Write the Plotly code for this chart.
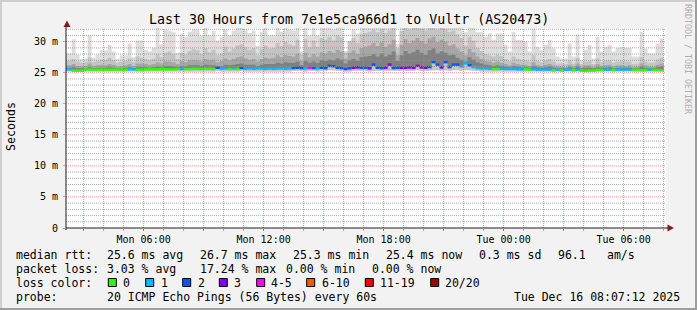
import plotly.graph_objects as go
from datetime import datetime, timedelta

# ---------------- data ----------------
bin_start = datetime(2025, 12, 15, 2, 0, 0)   # first 12-minute bin (partly visible)
bin_minutes = 12
view_start = "2025-12-15 02:07:12"
view_end = "2025-12-16 08:07:12"

# top of the smoke (slowest ping) per bin, ms
ping_max = [
    28.1,
    28.1, 30.4, 27.9, 27.2, 27.3, 31.0, 27.4, 27.9, 28.7, 28.6, 29.5, 28.4, 27.2, 27.8, 27.8, 29.7, 27.5, 30.2, 30.2, 28.7, 28.4, 29.0, 32.2, 29.6, 31.9,
    31.8, 31.5, 28.2, 31.3, 30.8, 31.6, 32.0, 32.0, 30.9, 32.2, 31.0, 31.7, 30.2, 30.8, 32.0, 31.0, 31.8, 32.3, 32.3, 32.0, 31.4, 31.8, 29.3, 31.6, 32.2,
    31.0, 31.0, 32.3, 31.6, 32.3, 32.0, 31.8, 32.4, 28.5, 32.4, 31.0, 32.3, 31.0, 32.4, 32.2, 32.4, 32.0, 32.4, 32.3, 28.5, 29.8, 32.0, 31.3, 32.4, 32.4,
    32.5, 32.5, 32.5, 32.5, 32.5, 32.5, 32.5, 29.6, 32.5, 32.5, 32.5, 32.5, 32.5, 32.5, 32.5, 32.5, 32.5, 32.5, 32.5, 32.5, 32.5, 32.5, 32.5, 32.5, 31.5,
    32.5, 32.5, 31.5, 31.5, 30.8, 31.3, 30.3, 31.3, 31.3, 29.5, 28.4, 31.6, 30.3, 30.3, 30.0, 28.4, 32.1, 29.2, 28.7, 29.5, 30.3, 28.9, 27.6, 27.3, 27.3,
    29.7, 27.6, 31.2, 27.0, 28.7, 29.5, 27.3, 30.8, 28.4, 29.2, 29.5, 28.4, 29.0, 29.2, 29.0, 29.0, 27.6, 27.6, 31.6, 28.9, 28.1, 28.1, 29.7, 30.5,
]
ping_p90 = [
    26.9,
    26.9, 27.2, 26.8, 26.6, 26.7, 27.5, 26.7, 26.9, 27.1, 27.0, 27.4, 27.0, 26.6, 26.8, 26.9, 27.3, 26.7, 27.6, 27.4, 27.2, 27.0, 27.3, 28.0, 27.5, 28.2,
    28.4, 28.0, 27.2, 28.2, 27.9, 28.5, 28.8, 28.6, 28.0, 29.0, 28.3, 28.7, 27.8, 28.1, 29.2, 28.4, 28.9, 29.4, 29.6, 29.1, 28.7, 29.0, 27.8, 28.8, 29.4,
    28.9, 29.0, 29.8, 29.3, 30.0, 29.6, 29.4, 30.3, 27.9, 30.4, 29.1, 30.2, 29.2, 30.6, 30.3, 30.8, 30.2, 31.0, 30.7, 28.2, 30.1, 30.6, 29.8, 31.2, 31.4,
    31.6, 31.9, 31.5, 32.0, 31.4, 31.8, 32.2, 28.9, 31.7, 32.3, 31.9, 32.2, 32.4, 32.1, 31.8, 32.3, 32.4, 31.9, 32.2, 32.0, 31.6, 31.8, 31.2, 30.6, 29.4,
    30.8, 30.2, 29.0, 28.5, 28.0, 27.8, 27.6, 27.9, 27.7, 27.2, 26.9, 27.6, 27.2, 27.1, 27.0, 26.8, 27.8, 26.9, 26.7, 27.0, 27.2, 26.8, 26.5, 26.5, 26.4,
    27.0, 26.5, 27.4, 26.4, 26.8, 26.9, 26.4, 27.3, 26.7, 26.9, 27.0, 26.6, 26.8, 26.9, 26.8, 26.8, 26.4, 26.5, 27.5, 26.8, 26.6, 26.6, 27.1, 27.4,
]
ping_p75 = [
    26.2,
    26.2, 26.4, 26.1, 26.0, 26.1, 26.5, 26.1, 26.2, 26.3, 26.2, 26.4, 26.3, 26.0, 26.1, 26.2, 26.4, 26.1, 26.5, 26.5, 26.4, 26.3, 26.4, 26.7, 26.5, 26.8,
    26.8, 26.7, 26.4, 26.9, 26.7, 27.0, 27.1, 27.0, 26.8, 27.2, 27.0, 27.1, 26.7, 26.9, 27.3, 27.0, 27.2, 27.5, 27.6, 27.3, 27.1, 27.2, 26.8, 27.2, 27.4,
    27.3, 27.4, 27.8, 27.5, 27.9, 27.7, 27.6, 28.1, 26.9, 28.2, 27.5, 28.0, 27.6, 28.3, 28.1, 28.5, 28.2, 28.7, 28.4, 27.3, 28.2, 28.6, 28.0, 29.0, 29.2,
    29.4, 29.8, 29.3, 29.9, 29.2, 29.6, 30.3, 27.8, 29.5, 30.4, 29.8, 30.2, 30.6, 30.1, 29.7, 30.5, 30.8, 29.9, 30.3, 30.0, 29.4, 29.6, 28.9, 28.4, 27.8,
    28.8, 28.3, 27.6, 27.2, 26.9, 26.8, 26.6, 26.8, 26.6, 26.4, 26.2, 26.6, 26.4, 26.3, 26.3, 26.1, 26.7, 26.2, 26.1, 26.3, 26.4, 26.2, 26.0, 26.0, 25.9,
    26.3, 26.0, 26.5, 25.9, 26.2, 26.2, 25.9, 26.4, 26.1, 26.2, 26.3, 26.0, 26.2, 26.2, 26.1, 26.2, 25.9, 26.0, 26.5, 26.2, 26.0, 26.0, 26.3, 26.5,
]
ping_p60 = [
    25.8,
    25.8, 25.9, 25.7, 25.7, 25.7, 25.9, 25.7, 25.8, 25.8, 25.8, 25.9, 25.8, 25.7, 25.7, 25.8, 25.9, 25.7, 25.9, 25.9, 25.9, 25.8, 25.9, 26.0, 25.9, 26.1,
    26.1, 26.0, 25.9, 26.1, 26.0, 26.2, 26.2, 26.2, 26.1, 26.3, 26.2, 26.2, 26.1, 26.1, 26.3, 26.2, 26.3, 26.4, 26.5, 26.3, 26.3, 26.3, 26.1, 26.3, 26.4,
    26.4, 26.4, 26.6, 26.5, 26.7, 26.6, 26.6, 26.8, 26.2, 26.9, 26.6, 26.8, 26.6, 27.0, 26.9, 27.1, 27.0, 27.3, 27.1, 26.5, 27.0, 27.2, 26.9, 27.5, 27.6,
    27.7, 28.0, 27.6, 28.1, 27.6, 27.9, 28.4, 26.9, 27.8, 28.5, 28.1, 28.3, 28.7, 28.2, 27.9, 28.6, 28.9, 28.1, 28.4, 28.2, 27.8, 27.9, 27.4, 27.1, 26.8,
    27.5, 27.1, 26.7, 26.5, 26.3, 26.2, 26.1, 26.2, 26.1, 26.0, 25.9, 26.1, 26.0, 25.9, 25.9, 25.8, 26.1, 25.9, 25.8, 25.9, 26.0, 25.8, 25.7, 25.7, 25.7,
    25.9, 25.7, 26.0, 25.7, 25.8, 25.8, 25.7, 25.9, 25.8, 25.8, 25.9, 25.7, 25.8, 25.8, 25.8, 25.8, 25.7, 25.7, 26.0, 25.8, 25.7, 25.7, 25.9, 26.0,
]
ping_min = [
    25.2,
    25.2, 25.1, 25.1, 25.1, 25.2, 25.2, 25.2, 25.2, 25.2, 25.2, 25.2, 25.2, 25.2, 25.2, 25.2, 25.2, 25.2, 25.2, 25.2, 25.2, 25.2, 25.2, 25.2, 25.2, 25.2,
    25.2, 25.2, 25.2, 25.2, 25.2, 25.2, 25.2, 25.2, 25.2, 25.2, 25.2, 25.2, 25.3, 25.2, 25.2, 25.2, 25.2, 25.2, 25.3, 25.2, 25.2, 25.2, 25.2, 25.2, 25.2,
    25.2, 25.2, 25.2, 25.2, 25.2, 25.2, 25.3, 25.3, 25.3, 25.2, 25.3, 25.3, 25.2, 25.3, 25.3, 25.4, 25.4, 25.3, 25.3, 25.2, 25.2, 25.3, 25.3, 25.3, 25.3,
    25.2, 25.3, 25.3, 25.3, 25.3, 25.3, 25.3, 25.3, 25.3, 25.3, 25.3, 25.3, 25.4, 25.3, 25.3, 25.3, 25.4, 25.4, 25.3, 25.4, 25.3, 25.4, 25.4, 25.3, 25.4,
    25.4, 25.3, 25.3, 25.2, 25.2, 25.2, 25.2, 25.2, 25.2, 25.2, 25.2, 25.2, 25.2, 25.2, 25.2, 25.2, 25.2, 25.2, 25.2, 25.2, 25.2, 25.1, 25.2, 25.1, 25.2,
    25.2, 25.1, 25.2, 25.1, 25.1, 25.1, 25.1, 25.2, 25.2, 25.2, 25.2, 25.2, 25.2, 25.2, 25.2, 25.2, 25.2, 25.2, 25.2, 25.2, 25.2, 25.2, 25.2, 25.2,
]
median_rtt = [
    25.55,
    25.55, 25.35, 25.35, 25.35, 25.5, 25.5, 25.5, 25.5, 25.5, 25.5, 25.5, 25.5, 25.5, 25.5, 25.5, 25.55, 25.55, 25.5, 25.5, 25.55, 25.55, 25.55, 25.55, 25.55, 25.55,
    25.55, 25.55, 25.6, 25.6, 25.6, 25.6, 25.65, 25.65, 25.6, 25.65, 25.65, 25.6, 25.8, 25.65, 25.7, 25.6, 25.7, 25.6, 25.75, 25.65, 25.7, 25.65, 25.7, 25.7, 25.65,
    25.7, 25.65, 25.7, 25.7, 25.65, 25.7, 25.75, 25.8, 25.75, 25.7, 25.8, 25.75, 25.7, 25.8, 25.75, 26.1, 26.05, 25.8, 25.75, 25.6, 25.7, 25.8, 25.85, 25.8, 25.8,
    25.7, 26.3, 25.8, 25.75, 25.8, 26.3, 25.75, 25.8, 25.8, 25.8, 25.85, 25.8, 26.1, 25.85, 25.8, 25.9, 26.7, 26.3, 25.85, 26.7, 25.9, 26.3, 26.3, 26.0, 26.5,
    26.2, 25.9, 25.75, 25.7, 25.7, 25.65, 25.6, 25.6, 25.65, 25.6, 25.6, 25.6, 25.55, 25.55, 25.55, 25.5, 25.55, 25.5, 25.5, 25.5, 25.5, 25.4, 25.5, 25.4, 25.5,
    25.5, 25.45, 25.5, 25.35, 25.3, 25.35, 25.35, 25.45, 25.45, 25.5, 25.5, 25.45, 25.5, 25.5, 25.5, 25.5, 25.45, 25.45, 25.4, 25.45, 25.5, 25.45, 25.45, 25.4,
]
loss_count = [
    1,
    1, 0, 0, 0, 0, 0, 0, 0, 0, 0, 0, 0, 0, 0, 0, 1, 1, 0, 0, 0, 0, 0, 0, 0, 0,
    0, 0, 0, 1, 0, 0, 0, 0, 0, 0, 0, 0, 2, 1, 1, 0, 1, 0, 2, 1, 1, 1, 1, 1, 1,
    1, 1, 1, 1, 1, 1, 2, 2, 2, 1, 4, 2, 1, 2, 2, 2, 2, 2, 2, 2, 2, 3, 3, 2, 2,
    3, 2, 2, 2, 3, 3, 2, 2, 3, 3, 3, 3, 3, 3, 3, 2, 2, 2, 3, 2, 2, 2, 2, 1, 1,
    2, 1, 1, 1, 1, 1, 0, 0, 1, 1, 1, 1, 1, 1, 0, 0, 1, 1, 1, 1, 1, 0, 1, 0, 1,
    1, 0, 1, 0, 0, 0, 0, 0, 0, 1, 1, 0, 1, 1, 1, 1, 0, 0, 0, 0, 1, 0, 0, 0,
]

loss_labels = ["0", "1", "2", "3", "4-5", "6-10", "11-19", "20/20"]
loss_upper = [0, 1, 2, 3, 5, 10, 19, 20]
loss_colors = ["#26ff00", "#00b8ff", "#0059ff", "#7e00ff", "#ff00ff", "#ff5500", "#ff0000", "#a10000"]

y_tickvals = [0, 5, 10, 15, 20, 25, 30]
y_ticktext = ["0", "5 m", "10 m", "15 m", "20 m", "25 m", "30 m"]
x_tickvals = ["2025-12-15 03:00", "2025-12-15 06:00", "2025-12-15 09:00", "2025-12-15 12:00",
              "2025-12-15 15:00", "2025-12-15 18:00", "2025-12-15 21:00", "2025-12-16 00:00",
              "2025-12-16 03:00", "2025-12-16 06:00"]
x_ticktext = ["", "Mon 06:00", "", "Mon 12:00", "", "Mon 18:00", "", "Tue 00:00", "", "Tue 06:00"]

title_text = "Last 30 Hours from 7e1e5ca966d1 to Vultr (AS20473)"
rtt_items = ["median rtt:", "25.6 ms avg", "26.7 ms max", "25.3 ms min", "25.4 ms now", "0.3 ms sd", "96.1", "am/s"]
loss_items = ["packet loss:", "3.03 % avg", "17.24 % max", "0.00 % min", "0.00 % now"]
probe_items = ["probe:", "20 ICMP Echo Pings (56 Bytes) every 60s"]
stamp_text = "Tue Dec 16 08:07:12 2025"

# ---------------- layout constants ----------------
W, H = 697, 310
L, T, PW, PH = 66, 28, 600, 200
FONT = "DejaVu Sans Mono"


def px(x):
    return (x - L) / PW


def py(y):
    return (T + PH - y) / PH


n = len(median_rtt)
starts = [bin_start + timedelta(minutes=bin_minutes * i) for i in range(n)]
edges = starts + [starts[-1] + timedelta(minutes=bin_minutes)]

fig = go.Figure()

# smoke layers: (upper, lower, colour)
layers = [(ping_max, ping_min, "#DDDDDD"), (ping_p90, ping_min, "#C4C4C4"),
          (ping_p75, median_rtt, "#A6A6A6"), (ping_p60, median_rtt, "#808080")]
for upper, lower, col in layers:
    fig.add_trace(go.Scatter(x=edges, y=lower + [lower[-1]], mode="lines",
                             line=dict(width=0, shape="hv"), hoverinfo="skip", showlegend=False))
    fig.add_trace(go.Scatter(x=edges, y=upper + [upper[-1]], mode="lines",
                             line=dict(width=0, shape="hv"), fill="tonexty", fillcolor=col,
                             hoverinfo="skip", showlegend=False))

# median line coloured by loss
for ci, col in enumerate(loss_colors):
    xs, ys = [], []
    for i in range(n):
        c = next(j for j, u in enumerate(loss_upper) if loss_count[i] <= u)
        if c == ci:
            xs += [starts[i], edges[i + 1], None]
            ys += [median_rtt[i], median_rtt[i], None]
    if xs:
        fig.add_trace(go.Scatter(x=xs, y=ys, mode="lines", line=dict(width=2.5, color=col),
                                 hoverinfo="skip", showlegend=False))

shapes = []
minor_col = "rgba(143,143,143,0.75)"
major_col = "rgba(222,79,79,0.6)"
# horizontal grid
for v in range(1, 33):
    shapes.append(dict(type="line", xref="paper", yref="y", x0=0, x1=1, y0=v, y1=v, layer="above",
                       line=dict(color=major_col if v % 5 == 0 else minor_col, width=1, dash="1px,1px")))
# vertical grid
t = datetime(2025, 12, 15, 3, 0, 0)
tend = datetime(2025, 12, 16, 8, 7, 12)
while t < tend:
    shapes.append(dict(type="line", xref="x", yref="paper", x0=t, x1=t, y0=0, y1=1, layer="above",
                       line=dict(color=major_col if t.hour % 3 == 0 else minor_col, width=1, dash="1px,1px")))
    t += timedelta(hours=1)

# frame
shapes += [
    dict(type="rect", xref="paper", yref="paper", x0=px(0), x1=px(W), y0=py(0), y1=py(2),
         fillcolor="#CFCFCF", line=dict(width=0), layer="above"),
    dict(type="rect", xref="paper", yref="paper", x0=px(0), x1=px(2), y0=py(0), y1=py(H),
         fillcolor="#CFCFCF", line=dict(width=0), layer="above"),
    dict(type="rect", xref="paper", yref="paper", x0=px(0), x1=px(W), y0=py(H - 2), y1=py(H),
         fillcolor="#9E9E9E", line=dict(width=0), layer="above"),
    dict(type="rect", xref="paper", yref="paper", x0=px(W - 2), x1=px(W), y0=py(0), y1=py(H),
         fillcolor="#9E9E9E", line=dict(width=0), layer="above"),
]
# axis arrows
arrow_col = "#801F1F"
shapes.append(dict(type="path", xref="paper", yref="paper",
                   path=f"M {px(63.5)} {py(27)} L {px(70.5)} {py(27)} L {px(67)} {py(20.5)} Z",
                   fillcolor=arrow_col, line=dict(width=0), layer="above"))
shapes.append(dict(type="path", xref="paper", yref="paper",
                   path=f"M {px(667.5)} {py(224.5)} L {px(667.5)} {py(231.5)} L {px(674)} {py(228)} Z",
                   fillcolor=arrow_col, line=dict(width=0), layer="above"))
shapes.append(dict(type="line", xref="paper", yref="paper", x0=px(L), x1=px(668), y0=0, y1=0,
                   line=dict(color="#1F1F1F", width=1), layer="above"))
shapes.append(dict(type="line", xref="paper", yref="paper", x0=0, x1=0, y0=py(230), y1=py(26),
                   line=dict(color="#1F1F1F", width=1), layer="above"))

annotations = []


def text(s, x, y, size=11.5, anchor="left", color="black", angle=0):
    annotations.append(dict(text=s, x=px(x), y=py(y), xref="paper", yref="paper", showarrow=False,
                            xanchor=anchor, yanchor="middle", textangle=angle, borderpad=0,
                            font=dict(family=FONT, size=size, color=color)))


text(title_text, 348.5, 19, size=13.3, anchor="center")
text("Seconds", 11, 127, size=11.6, anchor="center", angle=-90)
text("RRDTOOL / TOBI OETIKER", 688, 59, size=8.3, anchor="center", color="#ADADAD", angle=90)

rtt_x = [15, 106.3, 199, 292.3, 385, 478.3, 557.3, 605.7]
for s, x in zip(rtt_items, rtt_x):
    text(s, x, 254.5)
loss_x = [15, 106.3, 199, 285, 371.3]
for s, x in zip(loss_items, loss_x):
    text(s, x, 268.5)
text("loss color:", 15, 282.5)
box_x = [108.3, 145.7, 182.7, 219.3, 256.7, 306.7, 365.3, 430.7]
lab_x = [122.3, 160, 196.7, 233.3, 270, 320.7, 379, 444]
for lab, col, bx, lx in zip(loss_labels, loss_colors, box_x, lab_x):
    shapes.append(dict(type="rect", xref="paper", yref="paper", x0=px(bx), x1=px(bx + 8),
                       y0=py(286.5), y1=py(278.5), fillcolor=col, line=dict(color="black", width=1)))
    text(lab, lx, 282.5)
probe_x = [15, 106.3]
for s, x in zip(probe_items, probe_x):
    text(s, x, 296.5)
text(stamp_text, 681, 296.5, anchor="right")

fig.update_layout(
    width=W, height=H,
    margin=dict(l=L, r=W - L - PW, t=T, b=H - T - PH, pad=0),
    paper_bgcolor="#F2F2F2", plot_bgcolor="#FFFFFF",
    showlegend=False,
    shapes=shapes, annotations=annotations,
    xaxis=dict(type="date", range=[view_start, view_end], tickmode="array",
               tickvals=x_tickvals, ticktext=x_ticktext, ticks="outside", ticklen=2,
               tickcolor="rgba(222,79,79,0.9)", showgrid=False, zeroline=False, showline=False,
               ticklabelstandoff=0,
               tickfont=dict(family=FONT, size=10, color="black"),
               minor=dict(dtick=3600000, tick0="2025-12-15 00:00", ticks="outside", ticklen=2,
                          tickcolor="rgba(143,143,143,0.75)", showgrid=False)),
    yaxis=dict(range=[0, 32.2], tickmode="array", tickvals=y_tickvals, ticktext=y_ticktext,
               ticks="outside", ticklen=2, tickcolor="rgba(222,79,79,0.6)", showgrid=False,
               zeroline=False, showline=False, ticklabelstandoff=3,
               tickfont=dict(family=FONT, size=10, color="black")),
)

fig.write_html("out.html")
